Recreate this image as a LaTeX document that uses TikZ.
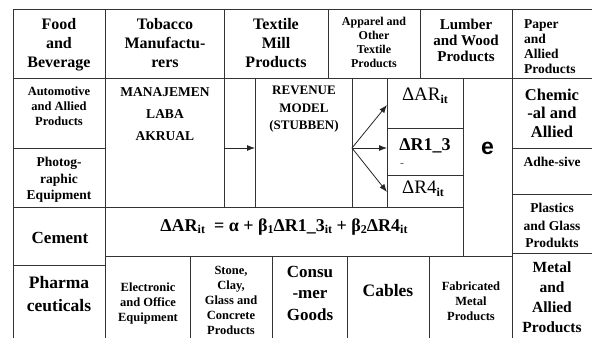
\documentclass[tikz,border=0pt]{standalone}
\usepackage{fontspec}
\setmainfont{Liberation Serif}
\newfontfamily\efont{Liberation Sans}
\usetikzlibrary{arrows.meta}

\newcommand{\fs}[2]{\fontsize{#1}{#2}\selectfont\bfseries}
\newcommand{\subtx}[2][10]{\raisebox{-0.35ex}{\fontsize{#1}{#1}\selectfont\bfseries #2}}

\tikzset{
  grid/.style={draw=black!80, line width=0.9pt},
  lbl/.style={align=center, anchor=north, inner sep=0pt},
  flow/.style={-{Latex[length=8pt,width=6pt]}, line width=0.8pt, draw=black!85},
}

\begin{document}
\begin{tikzpicture}[x=1pt,y=-1pt]
  \useasboundingbox (0,0) rectangle (592,338);

  % grid
  \draw[grid] (13,338) -- (13,9) -- (592,9);
  \draw[grid] (13,78) -- (592,78);
  \draw[grid] (105,9) -- (105,338);
  \draw[grid] (224,9) -- (224,207);
  \draw[grid] (328,9) -- (328,78);
  \draw[grid] (420,9) -- (420,78);
  \draw[grid] (512,9) -- (512,338);
  \draw[grid] (255,78) -- (255,207);
  \draw[grid] (352,78) -- (352,207);
  \draw[grid] (387,78) -- (387,207);
  \draw[grid] (463,78) -- (463,256);
  \draw[grid] (13,148) -- (105,148);
  \draw[grid] (13,207) -- (463,207);
  \draw[grid] (13,265) -- (105,265);
  \draw[grid] (105,256) -- (512,256);
  \draw[grid] (387,128) -- (463,128);
  \draw[grid] (387,175) -- (463,175);
  \draw[grid] (512,148) -- (592,148);
  \draw[grid] (512,194) -- (592,194);
  \draw[grid] (512,253) -- (592,253);
  \draw[grid] (190,256) -- (190,338);
  \draw[grid] (272,256) -- (272,338);
  \draw[grid] (347,256) -- (347,338);
  \draw[grid] (429,256) -- (429,338);

  % top row
  \node[lbl, font=\fs{16}{19}] (food) at (59,18) {Food\\and\\Beverage};
  \node[lbl, font=\fs{16}{19}] (tobacco) at (165,18) {Tobacco\\Manufactu-\\rers};
  \node[lbl, font=\fs{16}{19}] (textile) at (276,18) {Textile\\Mill\\Products};
  \node[lbl, font=\fs{12}{14}] (apparel) at (374,17) {Apparel and\\Other\\Textile\\Products};
  \node[lbl, font=\fs{15}{16}] (lumber) at (466,19) {Lumber\\and Wood\\Products};
  \node[lbl, font=\fs{13.5}{15}, align=left, anchor=north west] (paper) at (524,19) {Paper\\and\\Allied\\Products};

  % left column
  \node[lbl, font=\fs{12.5}{15}] (auto) at (59,87) {Automotive\\and Allied\\Products};
  \node[lbl, font=\fs{13.5}{16.5}] (photo) at (59,157) {Photog-\\raphic\\Equipment};
  \node[lbl, font=\fs{17}{20}] (cement) at (60,232) {Cement};
  \node[lbl, font=\fs{17.5}{23}] (pharma) at (59,276) {Pharma\\ceuticals};

  % middle
  \node[lbl, font=\fs{13.5}{22}] (laba) at (165,87) {MANAJEMEN\\LABA\\AKRUAL};
  \node[lbl, font=\fs{13}{17.5}] (revenue) at (304,86) {REVENUE\\MODEL\\(STUBBEN)};
  \node[lbl, font=\fs{19}{20}] (dar) at (425,88) {\mdseries ΔAR\subtx[12]{it}};
  \node[lbl, font=\fs{18}{20}] (dr13) at (425,138) {ΔR1\_3};
  \node[lbl, font=\fs{7}{7}] (dr13dot) at (402,163) {..};
  \node[lbl, font=\fs{19}{20}] (dr4) at (423,181) {\mdseries ΔR4\subtx[12]{it}};
  \node[font=\efont\bfseries\fontsize{23}{23}\selectfont, inner sep=0pt] (err) at (487.5,148) {e};

  % right column
  \node[lbl, font=\fs{16.5}{18.3}] (chem) at (552,89) {Chemic\\-al and\\Allied};
  \node[lbl, font=\fs{13.5}{16}] (adhe) at (552,157) {Adhe-sive};
  \node[lbl, font=\fs{13.5}{17.5}] (plastic) at (552,203) {Plastics\\and Glass\\Produkts};
  \node[lbl, font=\fs{15.5}{20}] (metal) at (552,262) {Metal\\and\\Allied\\Products};

  % equation
  \node[font=\fs{18}{18}, anchor=base, inner sep=0pt] (eq) at (284,231)
    {ΔAR\subtx[12]{it}\ \ = α + β\subtx[12]{1}ΔR1\_3\subtx[12]{it} + β\subtx[12]{2}ΔR4\subtx[12]{it}};

  % bottom row
  \node[lbl, font=\fs{12.5}{15}] (elec) at (148,283) {Electronic\\and Office\\Equipment};
  \node[lbl, font=\fs{12.5}{15}] (stone) at (231,266) {Stone,\\Clay,\\Glass and\\Concrete\\Products};
  \node[lbl, font=\fs{17}{21.5}] (consu) at (310,266) {Consu\\-mer\\Goods};
  \node[lbl, font=\fs{17.5}{20}] (cables) at (388,284) {Cables};
  \node[lbl, font=\fs{12.5}{15}] (fabric) at (471,282) {Fabricated\\Metal\\Products};

  % arrows
  \coordinate (lab) at (224,148);
  \coordinate (rvin) at (255,148);
  \coordinate (rvout) at (352,148);
  \coordinate (tdar) at (387,105);
  \coordinate (tdr13) at (387,148);
  \coordinate (tdr4) at (387,192);
  \draw[flow] (lab) -- (rvin);
  \draw[flow] (rvout) -- (tdar);
  \draw[flow] (rvout) -- (tdr13);
  \draw[flow] (rvout) -- (tdr4);
\end{tikzpicture}
\end{document}
